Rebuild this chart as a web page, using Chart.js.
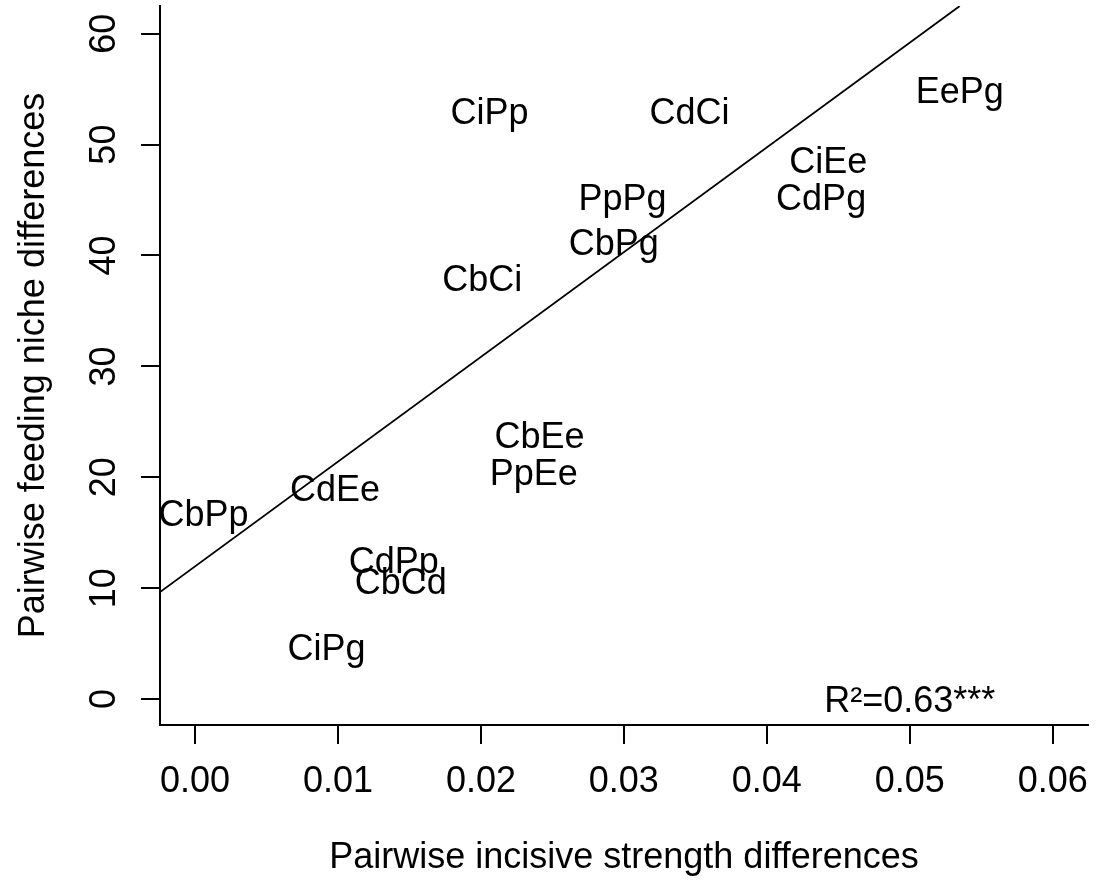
<!DOCTYPE html>
<html>
<head>
<meta charset="utf-8">
<script src="https://cdn.jsdelivr.net/npm/chart.js@4"></script>
<style>
  body { margin: 0; background: #fff; }
</style>
</head>
<body>
<canvas id="nicheChart" width="1096" height="881"></canvas>
<script>
// species pairs and their values
const pairLabels = ["CiPp", "CdCi", "EePg", "CiEe", "CdPg", "PpPg", "CbPg", "CbCi",
                    "CbEe", "PpEe", "CdEe", "CbPp", "CdPp", "CbCd", "CiPg"];
const strengthDiff = [0.0206, 0.0346, 0.0535, 0.0443, 0.0438, 0.0299, 0.0293, 0.0201,
                      0.0241, 0.0237, 0.0098, 0.0006, 0.0139, 0.0144, 0.0092];
const nicheDiff = [53.0, 53.0, 54.9, 48.6, 45.3, 45.3, 41.2, 38.0,
                   23.8, 20.5, 19.0, 16.8, 12.5, 10.6, 4.7];

// fitted line, two ends as seen in the plot
const fitX = [-0.00245, 0.0535];
const fitY = [9.65, 62.5];

const xTicks = [0, 0.01, 0.02, 0.03, 0.04, 0.05, 0.06];
const yTicks = [0, 10, 20, 30, 40, 50, 60];

const fitNote = "R\u00b2=0.63***";
const noteAt = { x: 0.05, y: 0 };

const FONT = '"Liberation Sans", Arial, sans-serif';
const FS = 36;

// draws the pair names where the points are
const pairLabelPlugin = {
    id: "pairLabels",
    afterDatasetsDraw(chart) {
        const ctx = chart.ctx;
        const meta = chart.getDatasetMeta(1);
        const off = FS * 0.358;
        ctx.save();
        ctx.font = FS + "px " + FONT;
        ctx.fillStyle = "#000";
        ctx.textAlign = "center";
        ctx.textBaseline = "alphabetic";
        meta.data.forEach((pt, i) => {
            ctx.fillText(pairLabels[i], pt.x, pt.y + off);
        });
        const xs = chart.scales.x;
        const ys = chart.scales.y;
        ctx.fillText(fitNote, xs.getPixelForValue(noteAt.x), ys.getPixelForValue(noteAt.y) + off);
        ctx.restore();
    },
};

const ctx = document.getElementById("nicheChart").getContext("2d");
new Chart(ctx, {
    type: "scatter",
    data: {
        datasets: [
            {
                type: "line",
                label: "fit",
                data: fitX.map((x, i) => ({ x: x, y: fitY[i] })),
                borderColor: "#000",
                borderWidth: 1.8,
                pointRadius: 0,
                fill: false,
            },
            {
                label: "pairs",
                data: strengthDiff.map((x, i) => ({ x: x, y: nicheDiff[i] })),
                pointRadius: 0,
                pointHoverRadius: 0,
            },
        ],
    },
    options: {
        responsive: false,
        animation: false,
        layout: {
            padding: { left: 0, right: 8, top: 6, bottom: 0 },
        },
        plugins: {
            legend: { display: false },
            tooltip: { enabled: false },
        },
        scales: {
            x: {
                type: "linear",
                min: -0.00245,
                max: 0.06247,
                afterFit(scale) {
                    scale.height = 156;
                    scale.paddingLeft = 0;
                    scale.paddingRight = 0;
                },
                afterBuildTicks(scale) { scale.ticks = xTicks.map(v => ({ value: v })); },
                border: { display: true, color: "#000", width: 2 },
                grid: {
                    display: true,
                    drawOnChartArea: false,
                    drawTicks: true,
                    tickLength: 19,
                    color: "#000",
                    lineWidth: 2,
                },
                ticks: {
                    color: "#000",
                    font: { family: FONT, size: FS },
                    padding: 16,
                    maxRotation: 0,
                    callback: (v) => Number(v).toFixed(2),
                },
                title: {
                    display: true,
                    text: "Pairwise incisive strength differences",
                    color: "#000",
                    font: { family: FONT, size: 36 },
                    padding: { top: 0, bottom: 1 },
                },
            },
            y: {
                type: "linear",
                min: -2.34,
                max: 62.5,
                afterFit(scale) {
                    scale.width = 160;
                    scale.paddingTop = 0;
                    scale.paddingBottom = 0;
                },
                afterBuildTicks(scale) { scale.ticks = yTicks.map(v => ({ value: v })); },
                border: { display: true, color: "#000", width: 2 },
                grid: {
                    display: true,
                    drawOnChartArea: false,
                    drawTicks: true,
                    tickLength: 19,
                    color: "#000",
                    lineWidth: 2,
                },
                ticks: {
                    color: "#000",
                    font: { family: FONT, size: FS },
                    padding: 16,
                    minRotation: 90,
                    maxRotation: 90,
                    crossAlign: "center",
                },
                title: {
                    display: true,
                    text: "Pairwise feeding niche differences",
                    color: "#000",
                    font: { family: FONT, size: 36 },
                    padding: { top: 12, bottom: 0 },
                },
            },
        },
    },
    plugins: [pairLabelPlugin],
});
</script>
</body>
</html>
